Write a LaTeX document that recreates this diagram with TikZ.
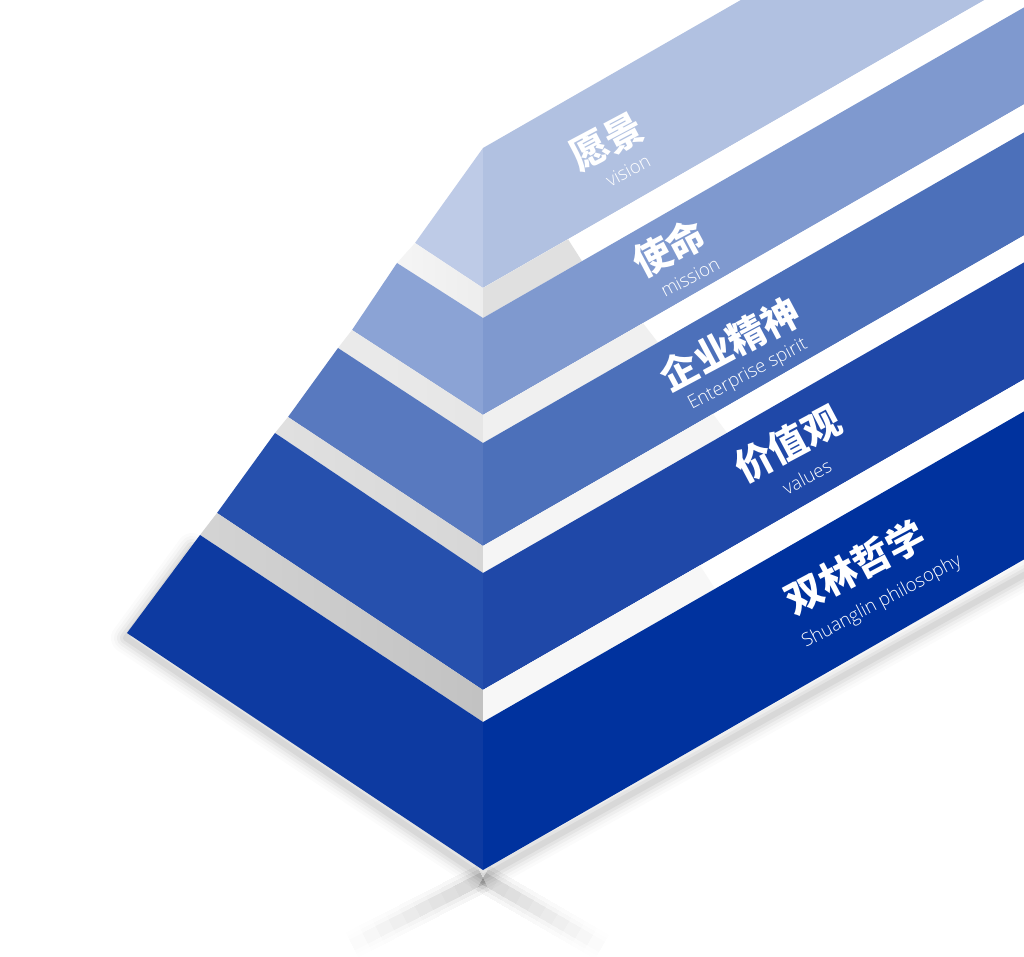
\documentclass[tikz,border=0pt]{standalone}
\usepackage{fontspec}
\usetikzlibrary{calc}
\IfFontExistsTF{Noto Sans CJK SC Black}{\newfontfamily\cjkfont{Noto Sans CJK SC Black}}{%
  \IfFontExistsTF{Noto Sans CJK SC Bold}{\newfontfamily\cjkfont{Noto Sans CJK SC Bold}}{\newfontfamily\cjkfont{Noto Sans CJK SC}[FakeBold=3]}}
\IfFontExistsTF{Open Sans Light}{\newfontfamily\enfont{Open Sans Light}}{\newfontfamily\enfont{Open Sans}}
\definecolor{visR}{HTML}{B1C1E1}
\definecolor{visL}{HTML}{BECBE7}
\definecolor{misR}{HTML}{7F99CF}
\definecolor{misL}{HTML}{8BA3D5}
\definecolor{spiR}{HTML}{4C70BA}
\definecolor{spiL}{HTML}{5879BF}
\definecolor{valR}{HTML}{1F48A8}
\definecolor{valL}{HTML}{2650AD}
\definecolor{botR}{HTML}{00329E}
\definecolor{botL}{HTML}{0D3AA1}
\newcommand\rface[3]{\fill[#3] (483,#1) -- (1100,{#1-354.2}) -- (1100,{#2-354.2}) -- (483,#2) -- cycle;}
\newcommand\rshade[5]{\fill[#5] (483,#1) -- (#3,{#1-0.574*(#3-483)}) -- (#4,{#2-0.574*(#4-483)}) -- (483,#2) -- cycle;}
\tikzset{
  cn/.style={text=white, inner sep=0pt, rotate=28, font=\cjkfont\fontsize{38}{38}\selectfont},
  en/.style={text=white, inner sep=0pt, rotate=28, font=\enfont\fontsize{18.5}{18.5}\selectfont},
  shd/.style={black, line join=round, line cap=round},
  arm/.style={black, line cap=butt}
}
\begin{document}
\begin{tikzpicture}[x=1pt,y=-1pt]
\useasboundingbox (0,0) rectangle (1024,957);
\clip (0,0) rectangle (1024,957);
\fill[white] (0,0) rectangle (1024,957);
% ---- shadows ----
\foreach \w/\o in {30/0.015,24/0.02,18/0.03,12/0.04,6/0.05}{
  \draw[shd, opacity=\o, line width=\w pt] (192,548) -- (126,638) -- (483,877) -- (1040,566);
}
\foreach \f in {0.1,0.2,...,1.0}{
  \foreach \w/\o in {28/0.004,20/0.005,12/0.006}{
    \draw[arm, opacity=\o, line width=\w pt] (483,878) -- ($(483,878)!\f!(352,945)$);
    \draw[arm, opacity=\o, line width=\w pt] (483,878) -- ($(483,878)!\f!(602,947)$);
  }
}
% ---- vision ----
\fill[visL] (483,148) -- (415,243) -- (483,288) -- cycle;
\rface{148}{288}{visR}
% ---- mission tread ----
\shade[left color=black!4, right color=black!7] (415,243) -- (483,288) -- (483,318) -- (397,263) -- cycle;
\rface{288}{318}{white}
\rshade{288}{318}{568}{582}{black!12}
% ---- mission ----
\fill[misL] (397,263) -- (483,318) -- (483,415) -- (352,330) -- cycle;
\rface{318}{415}{misR}
% ---- spirit tread ----
\shade[left color=black!8, right color=black!10] (352,330) -- (483,415) -- (483,443) -- (338,348) -- cycle;
\rface{415}{443}{white}
\rshade{415}{443}{643}{658}{black!6}
% ---- spirit ----
\fill[spiL] (338,348) -- (483,443) -- (483,546) -- (288,417) -- cycle;
\rface{443}{546}{spiR}
% ---- values tread ----
\shade[left color=black!12, right color=black!16] (288,417) -- (483,546) -- (483,573) -- (275,433) -- cycle;
\rface{546}{573}{white}
\rshade{546}{573}{713}{727}{black!4}
% ---- values ----
\fill[valL] (275,433) -- (483,573) -- (483,690) -- (217,513) -- cycle;
\rface{573}{690}{valR}
% ---- bottom tread ----
\shade[left color=black!17, right color=black!24] (217,513) -- (483,690) -- (483,722) -- (200,535) -- cycle;
\rface{690}{722}{white}
\rshade{690}{722}{700}{715}{black!3}
% ---- bottom ----
\fill[botL] (200,535) -- (483,722) -- (483,870) -- (127,633) -- cycle;
\rface{722}{870}{botR}
% ---- labels ----
\node[cn] (t1) at (607,142) {愿景};
\node[en] (e1) at (628,171) {vision};
\node[cn] (t2) at (669,248) {使命};
\node[en] (e2) at (690,277) {mission};
\node[cn] (t3) at (730,344) {企业精神};
\node[en] (e3) at (748,375) {Enterprise spirit};
\node[cn] (t4) at (788,444) {价值观};
\node[en] (e4) at (807,477) {values};
\node[cn] (t5) at (855,567) {双林哲学};
\node[en] (e5) at (882,602) {Shuanglin philosophy};
\end{tikzpicture}
\end{document}
